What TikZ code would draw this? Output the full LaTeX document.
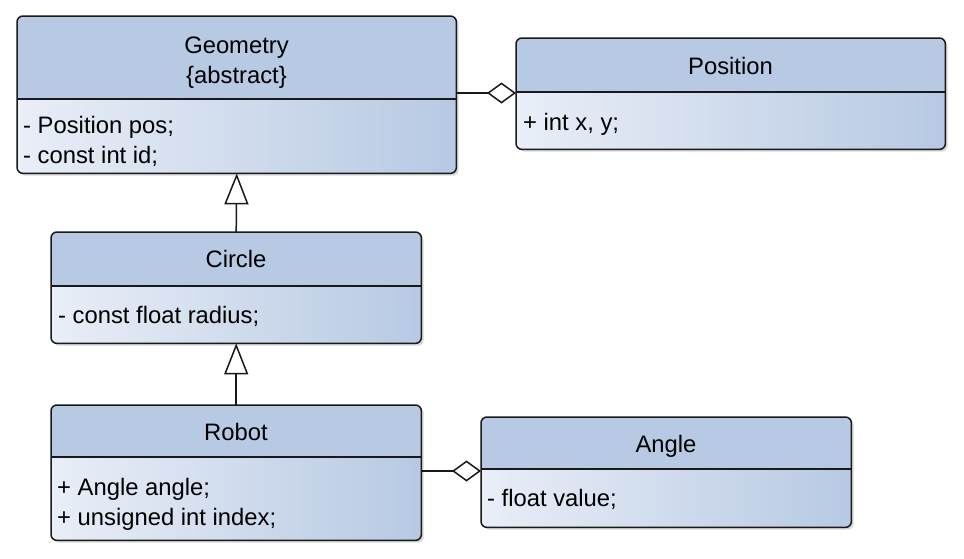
\documentclass[tikz,border=0pt]{standalone}
\usepackage{fontspec}
\setmainfont{Liberation Sans}
\usetikzlibrary{arrows.meta,shadows}
\definecolor{headc}{RGB}{183,201,227}
\definecolor{lightc}{RGB}{233,238,247}
\definecolor{edgec}{RGB}{25,25,25}
\tikzset{
  classbody/.style={rectangle, rounded corners=6pt, inner sep=0pt, left color=lightc, right color=headc, draw=none,
    drop shadow={opacity=0.3, shadow xshift=2.5pt, shadow yshift=-2.5pt}},
  classedge/.style={draw=edgec, line width=1.5pt, rounded corners=6pt},
  divline/.style={draw=edgec, line width=1.5pt},
  ttl/.style={inner sep=0pt, text height=17pt, text depth=0pt, anchor=center, font=\fontsize{23.8}{28}\selectfont},
  attr/.style={ttl, anchor=west},
  gen/.style={draw=edgec, line width=1.5pt, -{Triangle[open, length=31pt, width=24pt]}},
  aggr/.style={draw=edgec, line width=1.5pt, -{Diamond[open, length=29pt, width=21pt]}},
}
\newcommand\umlclass[6]{%
  \pgfmathsetmacro\bw{#4-#2}\pgfmathsetmacro\bh{#5-#3}%
  \node[classbody, anchor=north west, minimum width=\bw pt, minimum height=\bh pt] (#1) at (#2,#3) {};
  \coordinate (#1div) at (#2,#6);
  \fill[headc, rounded corners=6pt] (#1.north west) rectangle (#1.east |- #1div);
  \fill[headc] ([yshift=7pt]#1.west |- #1div) rectangle (#1.east |- #1div);
  \draw[classedge] (#1.north west) rectangle (#1.south east);
  \draw[divline] (#1.west |- #1div) -- (#1.east |- #1div);
}
\begin{document}
\begin{tikzpicture}[x=1pt, y=-1pt]
  \useasboundingbox (0,0) rectangle (964,558);
  \fill[white] (0,0) rectangle (964,558);

  \umlclass{geo}{17}{16}{456}{173}{99}
  \umlclass{pos}{516}{38}{945}{149}{92}
  \umlclass{circ}{51}{232}{421}{343}{286}
  \umlclass{robot}{51}{405}{421}{540}{457}
  \umlclass{angle}{481}{417}{851}{527}{469}

  \node[ttl] (geo-t1) at (236.5,45) {Geometry};
  \node[ttl] (geo-t2) at (236.5,75) {\{abstract\}};
  \node[attr] (geo-a1) at (23,125) {- Position pos;};
  \node[attr] (geo-a2) at (23,155) {- const int id;};

  \node[ttl] (pos-t1) at (730.5,66) {Position};
  \node[attr] (pos-a1) at (523,122) {+ int x, y;};

  \node[ttl] (circ-t1) at (236,259) {Circle};
  \node[attr] (circ-a1) at (58,315) {- const float radius;};

  \node[ttl] (robot-t1) at (236,432) {Robot};
  \node[attr] (robot-a1) at (57,487) {+ Angle angle;};
  \node[attr] (robot-a2) at (57,517) {+ unsigned int index;};

  \node[ttl] (angle-t1) at (666,444) {Angle};
  \node[attr] (angle-a1) at (487,498) {- float value;};

  \coordinate (pconn) at (0,93);
  \coordinate (aconn) at (0,471);
  \draw[gen] (circ.north) -- (geo.south);
  \draw[gen] (robot.north) -- (circ.south);
  \draw[aggr] (geo.east |- pconn) -- (pos.west |- pconn);
  \draw[aggr] (robot.east |- aconn) -- (angle.west |- aconn);
\end{tikzpicture}
\end{document}
